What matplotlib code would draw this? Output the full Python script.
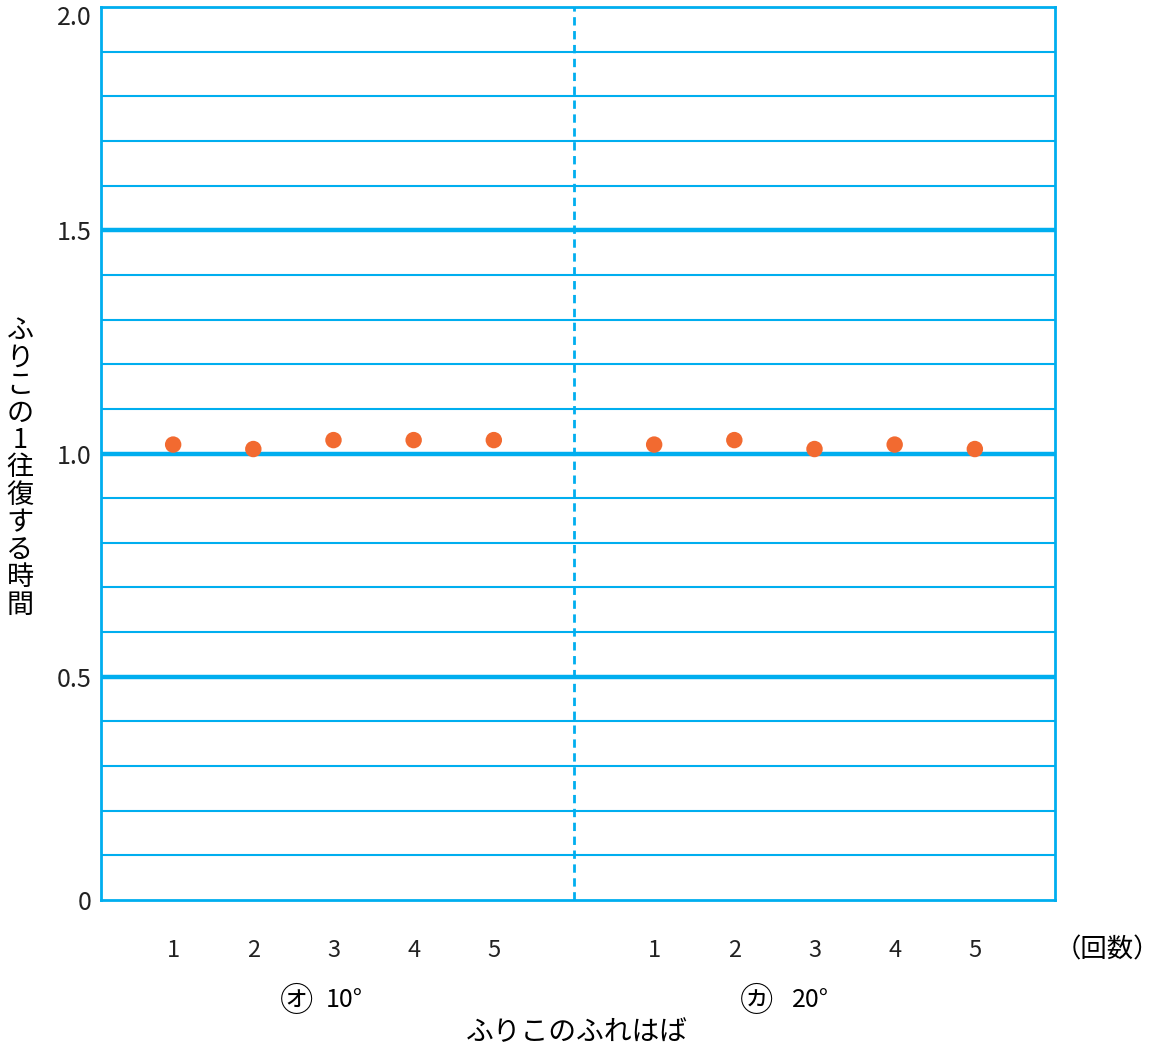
import numpy as np
import matplotlib
matplotlib.use('Agg')
from matplotlib import pyplot as plt
from matplotlib import transforms

plt.rcParams['font.family'] = ['Noto Sans CJK JP', 'DejaVu Sans']

'''Data read off the chart'''
trial_labels = ['1', '2', '3', '4', '5']
swing_10 = [1.02, 1.01, 1.03, 1.03, 1.03]   # ㋔ 10°
swing_20 = [1.02, 1.03, 1.01, 1.02, 1.01]   # ㋕ 20°
group_marks = ['㋔', '㋕']
group_angles = ['10°', '20°']
y_ticks = [0, 0.5, 1.0, 1.5, 2.0]
y_ticklabels = ['0', '0.5', '1.0', '1.5', '2.0']

blue = '#00AEEF'
orange = '#F26A30'

fig = plt.figure(figsize=(11.64, 10.52), dpi=100)
ax = fig.add_axes([101/1164, 152/1052, 954/1164, 893/1052])

x_left = np.arange(1, 6)
x_right = np.arange(7, 12)

# grid: thin every 0.1, thick every 0.5
for v in np.arange(0.1, 2.0, 0.1):
    v = round(v, 1)
    lw = 3.2 if abs(v / 0.5 - round(v / 0.5)) < 1e-6 else 1.5
    ax.axhline(v, color=blue, lw=lw, zorder=1)
ax.axvline(6, color=blue, lw=2, ls=(0, (3, 2)), zorder=1)

ax.scatter(x_left, swing_10, s=140, color=orange, zorder=3, edgecolors='none')
ax.scatter(x_right, swing_20, s=140, color=orange, zorder=3, edgecolors='none')

ax.set_xlim(0.1, 12.0)
ax.set_ylim(0, 2.0)
for s in ax.spines.values():
    s.set_color(blue)
    s.set_linewidth(2)

ax.set_xticks(list(x_left) + list(x_right))
ax.set_xticklabels(trial_labels + trial_labels)
ax.set_yticks(y_ticks)
ax.set_yticklabels(y_ticklabels)
ax.tick_params(axis='x', length=0, pad=28, labelsize=17, colors='#222222')
ax.tick_params(axis='y', length=0, pad=7, labelsize=18, colors='#222222')

# push the top label down a bit so it is not cut off
top_lbl = ax.get_yticklabels()[-1]
top_lbl.set_transform(top_lbl.get_transform() +
                      transforms.ScaledTranslation(0, -6/72, fig.dpi_scale_trans))

# group names under the tick numbers
mark_x = [297, 757]
angle_x = [344, 810]
for i in range(2):
    fig.text(mark_x[i]/1164, 1 - 1001/1052, group_marks[i], ha='center', va='center', fontsize=24)
    fig.text(angle_x[i]/1164, 1 - 1000/1052, group_angles[i], ha='center', va='center', fontsize=18)

fig.text(1107/1164, 1 - 950/1052, '（回数）', ha='center', va='center', fontsize=19)
fig.text(577/1164, 1 - 1032/1052, 'ふりこのふれはば', ha='center', va='center', fontsize=20)
fig.text(20/1164, 1 - 468/1052, '\n'.join('ふりこの1往復する時間'), ha='center', va='center',
         fontsize=19.5, linespacing=1.02)

plt.savefig('out.png', dpi=100)
